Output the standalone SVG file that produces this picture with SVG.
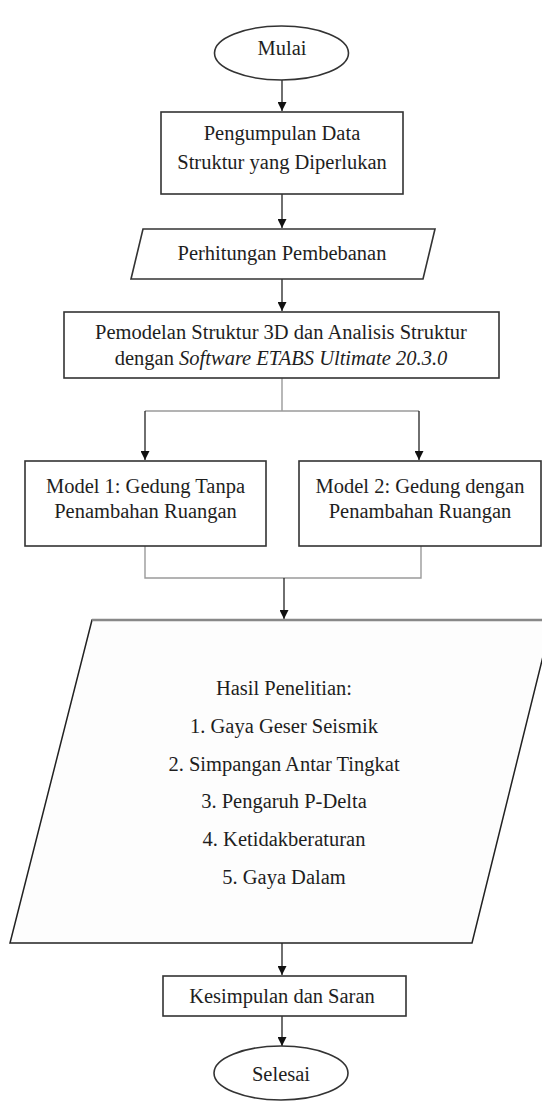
<svg xmlns="http://www.w3.org/2000/svg" width="542" height="1102" viewBox="0 0 542 1102">
<style>
.shape{fill:#fff;stroke:#333;stroke-width:1.6}
.t{font-family:'Liberation Serif','Times New Roman',Times,serif;font-size:20.5px;fill:#1e1e1e;text-anchor:middle}
.c{fill:none;stroke:#222;stroke-width:1.3}
.g{fill:none;stroke:#9a9a9a;stroke-width:1.4}
</style>
<defs>
<marker id="ah" viewBox="0 0 10 10" refX="10" refY="5" markerWidth="9" markerHeight="9" markerUnits="userSpaceOnUse" orient="auto">
<path d="M0,0 L10,5 L0,10 z" fill="#111"/>
</marker>
</defs>
<rect width="542" height="1102" fill="#fff"/>
<g id="connectors">
<line class="c" x1="282" y1="80" x2="282" y2="111" marker-end="url(#ah)"/>
<line class="c" x1="282" y1="194" x2="282" y2="228" marker-end="url(#ah)"/>
<line class="c" x1="282" y1="279" x2="282" y2="311" marker-end="url(#ah)"/>
<path class="g" d="M282,378 V411 M145,411 H419"/>
<line class="c" x1="145" y1="411" x2="145" y2="460" marker-end="url(#ah)"/>
<line class="c" x1="419" y1="411" x2="419" y2="460" marker-end="url(#ah)"/>
<path class="g" d="M145,546 V578 H421 V546"/>
<line class="c" x1="284" y1="578" x2="284" y2="619" marker-end="url(#ah)"/>
<line class="c" x1="282" y1="943" x2="282" y2="975" marker-end="url(#ah)"/>
<line class="c" x1="282" y1="1016" x2="282" y2="1046" marker-end="url(#ah)"/>
</g>
<g id="mulai">
<ellipse class="shape" cx="281.5" cy="53" rx="67" ry="27"/>
<text class="t" x="282" y="55">Mulai</text>
</g>
<g id="pengumpulan">
<rect class="shape" x="161" y="112" width="242" height="82"/>
<text class="t" x="282" y="140">Pengumpulan Data</text>
<text class="t" x="282" y="169">Struktur yang Diperlukan</text>
</g>
<g id="perhitungan">
<polygon class="shape" points="143,229 435,229 423,279 131,279"/>
<text class="t" x="282" y="260">Perhitungan Pembebanan</text>
</g>
<g id="pemodelan">
<rect class="shape" x="64" y="312" width="435" height="66"/>
<text class="t" x="281" y="339">Pemodelan Struktur 3D dan Analisis Struktur</text>
<text class="t" x="281" y="365">dengan <tspan font-style="italic">Software ETABS Ultimate 20.3.0</tspan></text>
</g>
<g id="model1">
<rect class="shape" x="25" y="461" width="241" height="85"/>
<text class="t" x="145.5" y="493">Model 1: Gedung Tanpa</text>
<text class="t" x="145.5" y="518">Penambahan Ruangan</text>
</g>
<g id="model2">
<rect class="shape" x="299" y="461" width="242" height="85"/>
<text class="t" x="420" y="493">Model 2: Gedung dengan</text>
<text class="t" x="420" y="518">Penambahan Ruangan</text>
</g>
<g id="hasil">
<polygon points="92,620 552,620 472,943 10,943" fill="#fdfdfd" stroke="#222" stroke-width="1.5"/>
<line x1="92" y1="620" x2="542" y2="620" stroke="#888" stroke-width="2.4"/>
<text class="t" x="284" y="695">Hasil Penelitian:</text>
<text class="t" x="284" y="733">1. Gaya Geser Seismik</text>
<text class="t" x="284" y="771">2. Simpangan Antar Tingkat</text>
<text class="t" x="284" y="808">3. Pengaruh P-Delta</text>
<text class="t" x="284" y="846">4. Ketidakberaturan</text>
<text class="t" x="284" y="884">5. Gaya Dalam</text>
</g>
<g id="kesimpulan">
<rect class="shape" x="163" y="976" width="243" height="40"/>
<text class="t" x="282" y="1003">Kesimpulan dan Saran</text>
</g>
<g id="selesai">
<ellipse class="shape" cx="281" cy="1073" rx="67" ry="27"/>
<text class="t" x="281" y="1081">Selesai</text>
</g>
</svg>
